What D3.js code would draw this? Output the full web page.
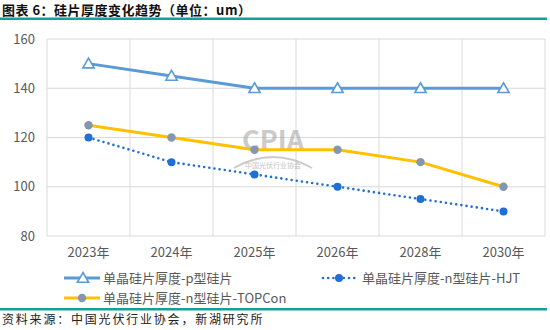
<!DOCTYPE html>
<html><head><meta charset="utf-8">
<script src="https://cdn.jsdelivr.net/npm/d3@7/dist/d3.min.js"></script>
<style>
body{margin:0;background:#fff;}
svg{display:block;}
text{font-family:"Noto Sans CJK SC","Noto Sans",sans-serif;}
</style></head>
<body>
<svg id="c" width="550" height="330"></svg>
<script>
const categories = ["2023年","2024年","2025年","2026年","2028年","2030年"];
const pType = [150,145,140,140,140,140];
const hjt = [120,110,105,100,95,90];
const topcon = [125,120,115,115,110,100];
const yTicks = [80,100,120,140,160];
const seriesNames = ["单晶硅片厚度-p型硅片","单晶硅片厚度-n型硅片-HJT","单晶硅片厚度-n型硅片-TOPCon"];
const titleText = "图表 6：硅片厚度变化趋势（单位：um）";
const sourceText = "资料来源：中国光伏行业协会，新湖研究所";

const svg = d3.select("#c");
const teal = "#12a09a";
const textGray = "#595959";
const gridGray = "#d9d9d9";

// title
svg.append("text").attr("x",2).attr("y",14.5).attr("font-size",13).attr("font-weight","bold")
  .attr("letter-spacing",0.5).attr("fill","#111").text(titleText);
svg.append("rect").attr("x",0).attr("y",17.5).attr("width",547).attr("height",2.5).attr("fill",teal);

const x = d3.scaleBand().domain(categories).range([47,545]).paddingInner(0).paddingOuter(0);
const y = d3.scaleLinear().domain([80,160]).range([236,39]);
const cx = d => x(d) + x.bandwidth()/2;

// horizontal gridlines
svg.append("g").selectAll("line").data(yTicks).join("line")
  .attr("x1",47).attr("x2",545).attr("y1",d=>y(d)).attr("y2",d=>y(d))
  .attr("stroke",gridGray).attr("stroke-width",1);
// vertical gridlines
const bounds = categories.map(c=>x(c)).concat([x(categories[categories.length-1])+x.bandwidth()]);
svg.append("g").selectAll("line").data(bounds).join("line")
  .attr("x1",d=>d).attr("x2",d=>d).attr("y1",y(160)).attr("y2",y(80))
  .attr("stroke",gridGray).attr("stroke-width",1);

// y axis labels
const yAxis = d3.axisLeft(y).tickValues(yTicks).tickSize(0).tickPadding(0);
const ga = svg.append("g").attr("transform","translate(35,0)").call(yAxis);
ga.select(".domain").remove();
ga.selectAll("text").attr("font-size",13).attr("fill",textGray).attr("font-family","'Open Sans','Noto Sans',sans-serif");

// x axis labels
const xAxis = d3.axisBottom(x).tickSize(0).tickPadding(0);
const gx = svg.append("g").attr("transform","translate(0,248)").call(xAxis);
gx.select(".domain").remove();
gx.selectAll("text").attr("font-size",13).attr("fill",textGray);

// watermark
const wm = svg.append("g").attr("opacity",0.5);
wm.append("text").attr("x",273).attr("y",150).attr("text-anchor","middle").attr("font-size",27)
  .attr("font-weight","bold").attr("fill","#999").attr("font-family","'DejaVu Sans Condensed','DejaVu Sans',sans-serif").text("CPIA");
wm.append("text").attr("x",273).attr("y",168).attr("text-anchor","middle").attr("font-size",7)
  .attr("fill","#888").text("中国光伏行业协会");
wm.append("path").attr("d","M234,168 Q273,146 312,168").attr("fill","none").attr("stroke","#999").attr("stroke-width",2);

const line = d3.line().x((d,i)=>cx(categories[i])).y(d=>y(d));

// TOPCon
svg.append("path").datum(topcon).attr("d",line).attr("fill","none").attr("stroke","#ffc000").attr("stroke-width",3);
svg.append("g").selectAll("circle").data(topcon).join("circle")
  .attr("cx",(d,i)=>cx(categories[i])).attr("cy",d=>y(d)).attr("r",4.2).attr("fill","#8497b0");

// HJT
svg.append("path").datum(hjt).attr("d",line).attr("fill","none").attr("stroke","#1f6fd6")
  .attr("stroke-width",2.6).attr("stroke-dasharray","0 5.2").attr("stroke-linecap","round");
svg.append("g").selectAll("circle").data(hjt).join("circle")
  .attr("cx",(d,i)=>cx(categories[i])).attr("cy",d=>y(d)).attr("r",4).attr("fill","#1f6fd6");

// p-type
const tri = d3.symbol().type(d3.symbolTriangle).size(55);
svg.append("path").datum(pType).attr("d",line).attr("fill","none").attr("stroke","#5b9bd5").attr("stroke-width",3);
svg.append("g").selectAll("path").data(pType).join("path")
  .attr("d",tri).attr("transform",(d,i)=>`translate(${cx(categories[i])},${y(d)+1})`)
  .attr("fill","#fff").attr("stroke","#5b9bd5").attr("stroke-width",1.6);

// legend
const lg = svg.append("g");
lg.append("line").attr("x1",64).attr("x2",100).attr("y1",278).attr("y2",278).attr("stroke","#5b9bd5").attr("stroke-width",3);
lg.append("path").attr("d",tri).attr("transform","translate(83,279)").attr("fill","#fff").attr("stroke","#5b9bd5").attr("stroke-width",1.6);
lg.append("text").attr("x",103).attr("y",278).attr("dy","0.35em").attr("font-size",13).attr("fill",textGray).text(seriesNames[0]);
lg.append("line").attr("x1",323).attr("x2",356).attr("y1",278).attr("y2",278).attr("stroke","#1f6fd6")
  .attr("stroke-width",2.6).attr("stroke-dasharray","0 5.2").attr("stroke-linecap","round");
lg.append("circle").attr("cx",339).attr("cy",278).attr("r",4).attr("fill","#1f6fd6");
lg.append("text").attr("x",362).attr("y",278).attr("dy","0.35em").attr("font-size",13).attr("fill",textGray).text(seriesNames[1]);
lg.append("line").attr("x1",64).attr("x2",100).attr("y1",298).attr("y2",298).attr("stroke","#ffc000").attr("stroke-width",3);
lg.append("circle").attr("cx",82).attr("cy",298).attr("r",4.2).attr("fill","#8497b0");
lg.append("text").attr("x",103).attr("y",298).attr("dy","0.35em").attr("font-size",13).attr("fill",textGray).text(seriesNames[2]);

// bottom rule & source
svg.append("rect").attr("x",0).attr("y",308).attr("width",547).attr("height",2.5).attr("fill",teal);
svg.append("text").attr("x",2).attr("y",324).attr("font-size",12).attr("letter-spacing",1.8).attr("fill","#222").text(sourceText);
</script>
</body></html>
